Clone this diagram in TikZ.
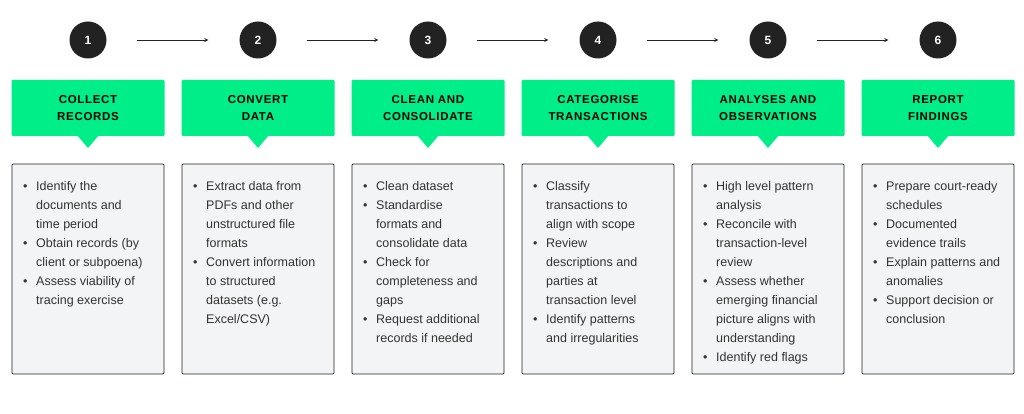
\documentclass[tikz,border=0pt]{standalone}
\usepackage{fontspec}
\setmainfont{Liberation Sans}
\newfontfamily\hdfont[LetterSpace=6]{Liberation Sans}
\definecolor{grn}{HTML}{00EE88}
\definecolor{dk}{HTML}{222222}
\definecolor{bx}{HTML}{F3F4F6}
\definecolor{tx}{HTML}{333333}
\newcommand{\bl}{\makebox[13pt][l]{\textbullet}}
\newcommand{\ind}{\hspace*{13pt}}
\begin{document}
\begin{tikzpicture}[x=1pt,y=-1pt,
  num/.style={circle,fill=dk,minimum size=37pt,inner sep=0,text=white,font=\fontsize{12}{14}\selectfont\bfseries},
  hd/.style={fill=grn,minimum width=153pt,minimum height=56pt,inner sep=0,align=center,font=\hdfont\fontsize{11.5}{17}\selectfont\bfseries,rounded corners=1pt},
  cb/.style={draw=dk,fill=bx,line width=0.9pt,minimum width=152pt,minimum height=210pt,inner sep=0,rounded corners=1pt},
  bt/.style={anchor=north west,inner sep=0,align=left,text=tx,font=\fontsize{12.5}{19}\selectfont},
  arr/.style={-stealth,line width=0.8pt,dk}]
\useasboundingbox (0,0) rectangle (1024,414);
\foreach \i/\t [count=\k] in {1/{COLLECT\\RECORDS},2/{CONVERT\\DATA},3/{CLEAN AND\\CONSOLIDATE},4/{CATEGORISE\\TRANSACTIONS},5/{ANALYSES AND\\OBSERVATIONS},6/{REPORT\\FINDINGS}}{
  \pgfmathsetmacro{\cx}{88+170*(\k-1)}
  \node[num] (n\k) at (\cx,40) {\i};
  \node[hd] (h\k) at (\cx,108) {\t};
  \fill[grn] (\cx-11,135) -- (\cx+11,135) -- (\cx,148) -- cycle;
  \node[cb] (c\k) at (\cx,269) {};
}
\foreach \a/\b in {1/2,2/3,3/4,4/5,5/6}{
  \draw[arr] ([xshift=30pt]n\a.east) -- ([xshift=-31pt]n\b.west);
}
\node[bt] (t1) at (23,181) {\bl Identify the\\ \ind documents and\\ \ind time period\\ \bl Obtain records (by\\ \ind client or subpoena)\\ \bl Assess viability of\\ \ind tracing exercise};
\node[bt] (t2) at (193,181) {\bl Extract data from\\ \ind PDFs and other\\ \ind unstructured file\\ \ind formats\\ \bl Convert information\\ \ind to structured\\ \ind datasets (e.g.\\ \ind Excel/CSV)};
\node[bt] (t3) at (363,181) {\bl Clean dataset\\ \bl Standardise\\ \ind formats and\\ \ind consolidate data\\ \bl Check for\\ \ind completeness and\\ \ind gaps\\ \bl Request additional\\ \ind records if needed};
\node[bt] (t4) at (533,181) {\bl Classify\\ \ind transactions to\\ \ind align with scope\\ \bl Review\\ \ind descriptions and\\ \ind parties at\\ \ind transaction level\\ \bl Identify patterns\\ \ind and irregularities};
\node[bt] (t5) at (703,181) {\bl High level pattern\\ \ind analysis\\ \bl Reconcile with\\ \ind transaction-level\\ \ind review\\ \bl Assess whether\\ \ind emerging financial\\ \ind picture aligns with\\ \ind understanding\\ \bl Identify red flags};
\node[bt] (t6) at (873,181) {\bl Prepare court-ready\\ \ind schedules\\ \bl Documented\\ \ind evidence trails\\ \bl Explain patterns and\\ \ind anomalies\\ \bl Support decision or\\ \ind conclusion};
\end{tikzpicture}
\end{document}
